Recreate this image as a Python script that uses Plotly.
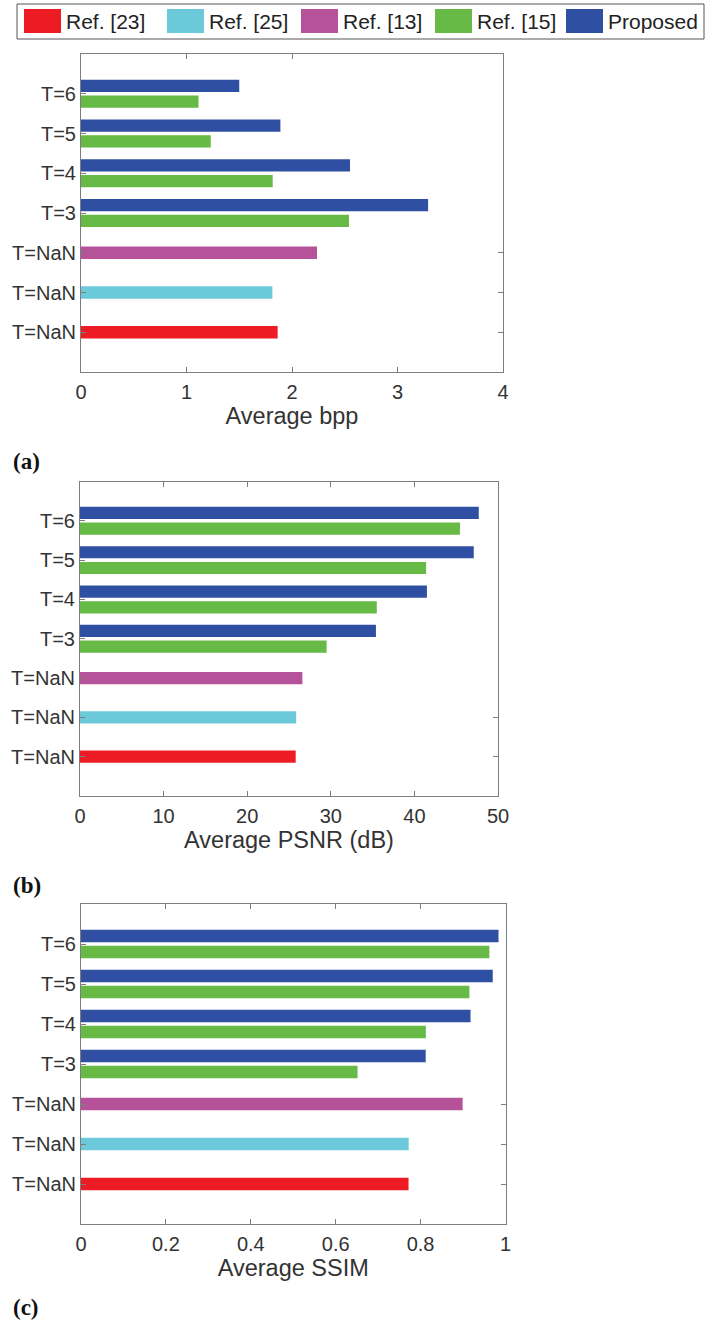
import plotly.graph_objects as go

# ---------------- data ----------------
row_labels = ["T=NaN", "T=NaN", "T=NaN", "T=3", "T=4", "T=5", "T=6"]  # bottom -> top
series_names = ["Ref. [23]", "Ref. [25]", "Ref. [13]", "Ref. [15]", "Proposed"]
series_colors = ["#ED1C24", "#6CC9DA", "#B5529A", "#67BA45", "#2F50A2"]

# single-bar methods (one row each: Ref.[23] row 1, Ref.[25] row 2, Ref.[13] row 3)
ref23_bpp, ref25_bpp, ref13_bpp = 1.864, 1.814, 2.237
ref23_psnr, ref25_psnr, ref13_psnr = 25.8, 25.86, 26.6
ref23_ssim, ref25_ssim, ref13_ssim = 0.7716, 0.772, 0.899

# T = 3, 4, 5, 6
ref15_bpp = [2.54, 1.817, 1.23, 1.114]
prop_bpp = [3.29, 2.55, 1.89, 1.50]
ref15_psnr = [29.5, 35.5, 41.4, 45.45]
prop_psnr = [35.4, 41.5, 47.1, 47.7]
ref15_ssim = [0.6515, 0.8124, 0.915, 0.962]
prop_ssim = [0.812, 0.9176, 0.970, 0.9835]

x_titles = ["Average bpp", "Average PSNR (dB)", "Average SSIM"]
x_ticks = [[0, 1, 2, 3, 4], [0, 10, 20, 30, 40, 50], [0, 0.2, 0.4, 0.6, 0.8, 1]]
x_ticktext = [["0", "1", "2", "3", "4"], ["0", "10", "20", "30", "40", "50"],
              ["0", "0.2", "0.4", "0.6", "0.8", "1"]]
panel_labels = ["(a)", "(b)", "(c)"]

# ---------------- layout helpers ----------------
W, H = 705, 1327
def px_x(v):
    return v / W
def px_y(v):
    return 1 - v / H

positions = list(range(1, len(row_labels) + 1))
t_positions = positions[3:]

panels = [
    dict(vals=(ref23_bpp, ref25_bpp, ref13_bpp, ref15_bpp, prop_bpp),
         xd=(81, 503), yd=(54, 372), top_ticks=[1, 2], right_ticks=[1, 2, 3], lab_y=462),
    dict(vals=(ref23_psnr, ref25_psnr, ref13_psnr, ref15_psnr, prop_psnr),
         xd=(80, 498), yd=(481.5, 796), top_ticks=[10, 20, 30, 40], right_ticks=[1, 2], lab_y=885),
    dict(vals=(ref23_ssim, ref25_ssim, ref13_ssim, ref15_ssim, prop_ssim),
         xd=(81, 505.5), yd=(904, 1224), top_ticks=[0.2, 0.4, 0.6, 0.8], right_ticks=[1, 2, 3], lab_y=1307),
]

fig = go.Figure()
TXT = "#333333"
AX = "#7d7d7d"
FONT = "Liberation Sans, Arial, sans-serif"
BW = 0.31

layout = dict(
    width=W, height=H, margin=dict(l=0, r=0, t=0, b=0, autoexpand=False),
    paper_bgcolor="white", plot_bgcolor="white",
    barmode="overlay", showlegend=False,
    font=dict(family=FONT, size=20, color=TXT),
)
annotations = []
shapes = []

for i, p in enumerate(panels):
    n = i + 1
    xa = "x" if n == 1 else f"x{n}"
    ya = "y" if n == 1 else f"y{n}"
    r23, r25, r13, r15, prop = p["vals"]
    xmax = x_ticks[i][-1]
    # single bars centred on their rows
    for val, row, k in [(r23, positions[0], 0), (r25, positions[1], 1), (r13, positions[2], 2)]:
        fig.add_trace(go.Bar(orientation="h", x=[val], y=[row], width=BW, offset=-BW / 2,
                             marker=dict(color=series_colors[k], line=dict(width=0)),
                             xaxis=xa, yaxis=ya, name=series_names[k]))
    # Ref.[15] below, Proposed above
    fig.add_trace(go.Bar(orientation="h", x=r15, y=t_positions, width=BW, offset=-0.045 - BW,
                         marker=dict(color=series_colors[3], line=dict(width=0)),
                         xaxis=xa, yaxis=ya, name=series_names[3]))
    fig.add_trace(go.Bar(orientation="h", x=prop, y=t_positions, width=BW, offset=0.045,
                         marker=dict(color=series_colors[4], line=dict(width=0)),
                         xaxis=xa, yaxis=ya, name=series_names[4]))

    xdom = [px_x(p["xd"][0]), px_x(p["xd"][1])]
    ydom = [px_y(p["yd"][1]), px_y(p["yd"][0])]
    xkey = "xaxis" if n == 1 else f"xaxis{n}"
    ykey = "yaxis" if n == 1 else f"yaxis{n}"
    layout[xkey] = dict(
        domain=xdom, anchor=ya, range=[0, xmax], tickmode="array",
        tickvals=x_ticks[i], ticktext=x_ticktext[i],
        ticks="inside", ticklen=5, tickcolor=AX, tickwidth=1,
        showline=True, linecolor=AX, linewidth=1, mirror=True,
        showgrid=False, zeroline=False, ticklabelstandoff=2, automargin=False,
        tickfont=dict(family=FONT, size=20, color=TXT),
        title=dict(text=x_titles[i], font=dict(family=FONT, size=23.5, color=TXT), standoff=2),
    )
    layout[ykey] = dict(
        domain=ydom, anchor=xa, range=[0, len(row_labels) + 1], tickmode="array",
        tickvals=positions, ticktext=row_labels,
        ticks="inside", ticklen=5, tickcolor=AX, tickwidth=1,
        showline=True, linecolor=AX, linewidth=1, mirror=True,
        showgrid=False, zeroline=False, ticklabelstandoff=0, automargin=False,
        tickfont=dict(family=FONT, size=20, color=TXT),
    )
    # mirror ticks (top and right) that are visible in the original
    tx = f"x{n + 3}"
    ty = f"y{n + 3}"
    layout[f"xaxis{n + 3}"] = dict(
        overlaying=xa, side="top", anchor=ya, range=[0, xmax], tickmode="array",
        tickvals=p["top_ticks"], ticks="inside", ticklen=5, tickcolor=AX,
        showticklabels=False, showline=False, showgrid=False, zeroline=False, automargin=False,
    )
    layout[f"yaxis{n + 3}"] = dict(
        overlaying=ya, side="right", anchor=xa, range=[0, len(row_labels) + 1], tickmode="array",
        tickvals=p["right_ticks"], ticks="inside", ticklen=5, tickcolor=AX,
        showticklabels=False, showline=False, showgrid=False, zeroline=False, automargin=False,
    )
    fig.add_trace(go.Scatter(x=[None], y=[None], xaxis=tx, yaxis=ty, showlegend=False, hoverinfo="skip"))
    annotations.append(dict(
        text=f"<b>{panel_labels[i]}</b>", xref="paper", yref="paper",
        x=px_x(11), y=px_y(p["lab_y"]), xanchor="left", yanchor="middle", showarrow=False,
        font=dict(family="Liberation Serif, Times New Roman, serif", size=23, color="#111111"),
    ))

# ---------------- legend (manual, big swatches) ----------------
shapes.append(dict(type="rect", xref="paper", yref="paper",
                   x0=px_x(17), x1=px_x(704), y0=px_y(39), y1=px_y(4),
                   line=dict(color="#555555", width=1), fillcolor="white", layer="below"))
sw_left = [24, 167, 301, 435, 566]
for name, col, sx in zip(series_names, series_colors, sw_left):
    shapes.append(dict(type="rect", xref="paper", yref="paper",
                       x0=px_x(sx), x1=px_x(sx + 37), y0=px_y(33), y1=px_y(9),
                       line=dict(width=0), fillcolor=col))
    annotations.append(dict(
        text=name, xref="paper", yref="paper", x=px_x(sx + 40), y=px_y(21.5),
        xanchor="left", yanchor="middle", showarrow=False,
        font=dict(family=FONT, size=21, color="#222222"),
    ))

layout["annotations"] = annotations
layout["shapes"] = shapes
fig.update_layout(**layout)
fig.write_html(
    "out.html",
    config={"displayModeBar": False},
    post_script="document.body.style.margin='0px';document.body.style.overflow='hidden';",
)
